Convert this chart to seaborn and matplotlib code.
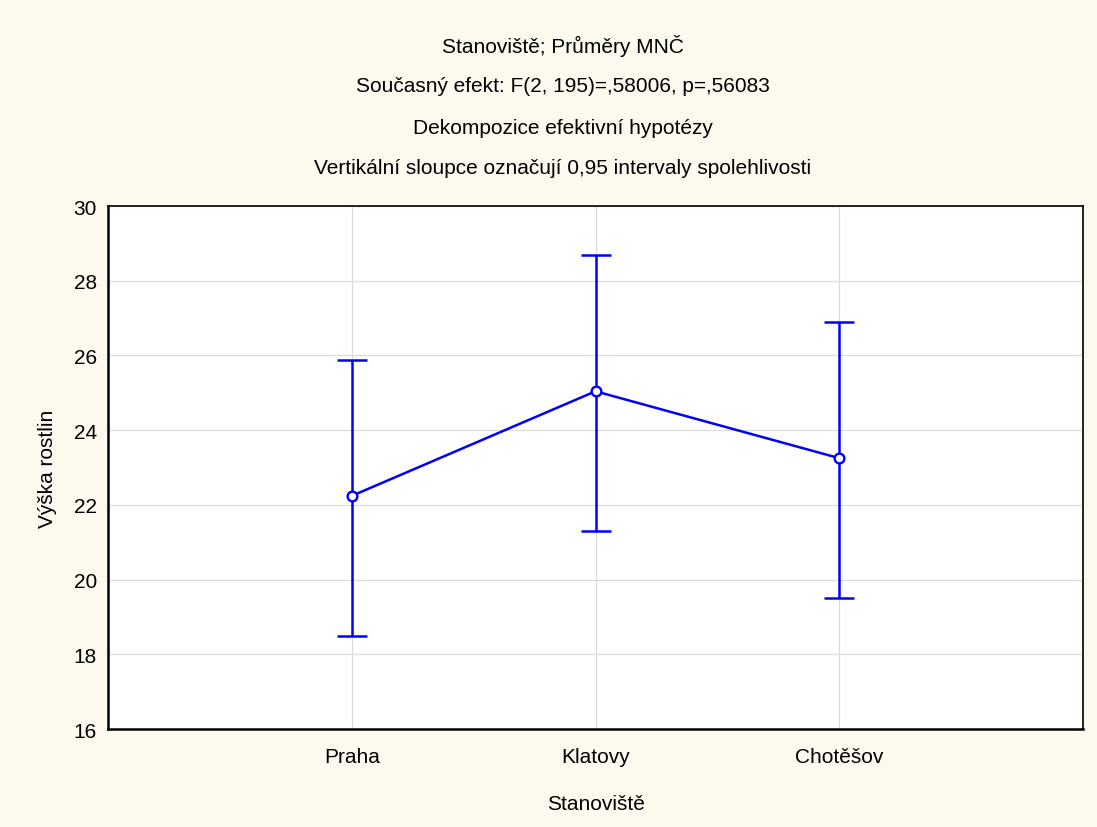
import matplotlib
matplotlib.use("Agg")
import matplotlib.pyplot as plt
import seaborn as sns
import pandas as pd

categories = ["Praha", "Klatovy", "Chotěšov"]
means = [22.24, 25.04, 23.25]
lower = [18.49, 21.30, 19.51]
upper = [25.88, 28.69, 26.90]
yticks = [16, 18, 20, 22, 24, 26, 28, 30]
title_lines = [
    "Stanoviště; Průměry MNČ",
    "Současný efekt: F(2, 195)=,58006, p=,56083",
    "Dekompozice efektivní hypotézy",
    "Vertikální sloupce označují 0,95 intervaly spolehlivosti",
]

sns.set_theme(style="white")
plt.rcParams["font.family"] = ["Liberation Sans", "DejaVu Sans"]

bg = "#fdf9ef"
blue = "#0000ff"
fs = 15

fig = plt.figure(figsize=(10.97, 8.28), dpi=100, facecolor=bg)
ax = fig.add_axes([108 / 1097, 1 - 730 / 828, (1083 - 108) / 1097, (730 - 207) / 828])
ax.set_facecolor("white")

df = pd.DataFrame({"site": categories, "mean": means, "lo": lower, "hi": upper})
df["x"] = range(len(df))

ax.errorbar(df["x"], df["mean"],
            yerr=[df["mean"] - df["lo"], df["hi"] - df["mean"]],
            fmt="none", ecolor=blue, elinewidth=1.8, capsize=11, capthick=1.8, zorder=3)
sns.lineplot(data=df, x="x", y="mean", ax=ax, color=blue, linewidth=1.8,
             marker="o", markersize=7, markerfacecolor="white",
             markeredgecolor=blue, markeredgewidth=1.7, zorder=4)

ax.set_xlim(-1, 3)
ax.set_ylim(16, 30)
ax.set_xticks(df["x"])
ax.set_xticklabels(categories)
ax.set_yticks(yticks)
ax.set_yticklabels([str(t) for t in yticks])
ax.grid(True, color="#dcdcdc", linewidth=0.9)
ax.set_axisbelow(True)

for s in ["left", "bottom"]:
    ax.spines[s].set_color("black")
    ax.spines[s].set_linewidth(1.8)
for s in ["top", "right"]:
    ax.spines[s].set_color("black")
    ax.spines[s].set_linewidth(1.2)

ax.tick_params(axis="both", direction="in", length=5, width=1, color="black",
               labelsize=fs, labelcolor="black", pad=8)
ax.tick_params(axis="x", pad=13)

ax.set_xlabel("Stanoviště", fontsize=fs, color="black", labelpad=20)
ax.set_ylabel("Výška rostlin", fontsize=fs, color="black", labelpad=12)

ys = [46, 87, 128, 168]
for t, y in zip(title_lines, ys):
    fig.text(563 / 1097, 1 - y / 828, t, ha="center", va="center", fontsize=fs, color="black")

fig.savefig("out.png", dpi=100, facecolor=bg)
